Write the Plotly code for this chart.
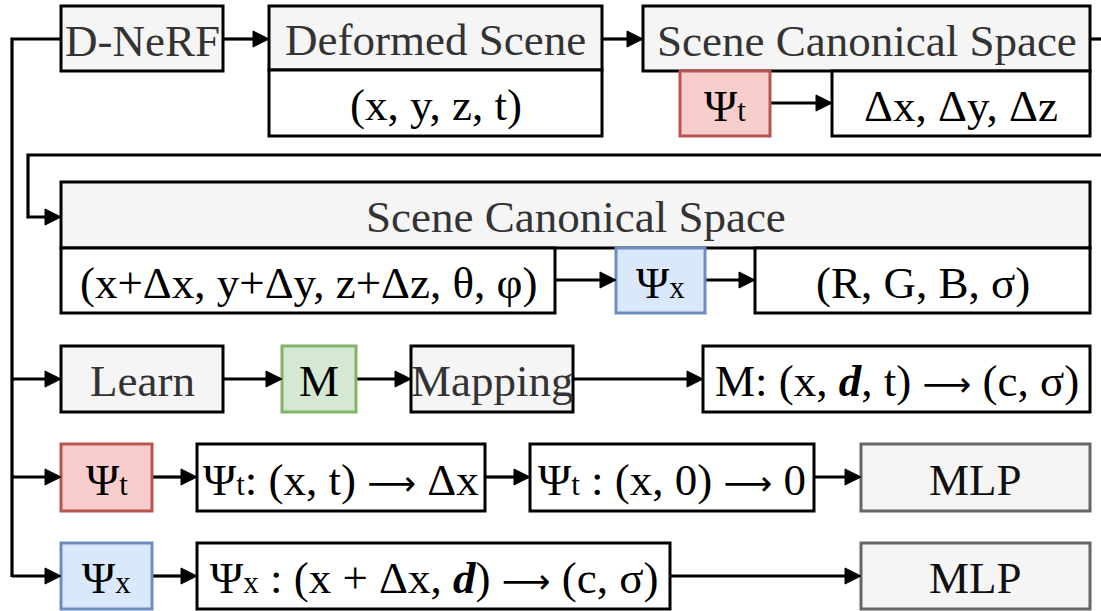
import plotly.graph_objects as go

W, H = 1101, 611
FONT = "Liberation Serif"
FS = 45

def sub(s):
    return "<span style='font-size:31px'>" + s + "</span>"

ARROW = "<span style='font-family:DejaVu Sans;font-size:34px'>⟶</span>"

# ---- diagram content (labels) ----
box_labels = [
    "D-NeRF",
    "Deformed Scene",
    "(x, y, z, t)",
    "Scene Canonical Space",
    "Ψ" + sub("t"),
    "Δx, Δy, Δz",
    "Scene Canonical Space",
    "(x+Δx, y+Δy, z+Δz, θ, φ)",
    "Ψ" + sub("x"),
    "(R, G, B, σ)",
    "Learn",
    "M",
    "Mapping",
    "M: (x, <b><i>d</i></b>, t) " + ARROW + " (c, σ)",
    "Ψ" + sub("t"),
    "Ψ" + sub("t") + ": (x, t) " + ARROW + " Δx",
    "Ψ" + sub("t") + " : (x, 0) " + ARROW + " 0",
    "MLP",
    "Ψ" + sub("x"),
    "Ψ" + sub("x") + " : (x + Δx, <b><i>d</i></b>) " + ARROW + " (c, σ)",
    "MLP",
]
box_kind = ["gray", "gray", "white", "gray", "red", "white",
            "gray", "white", "blue", "white",
            "gray", "green", "gray", "white",
            "red", "white", "white", "mlp",
            "blue", "white", "mlp"]

# ---- layout geometry (pixels) ----
box_x0 = [61, 269, 269, 643, 680, 832, 61, 61, 616, 755, 61, 282, 411, 703, 61, 197, 530, 861, 61, 197, 861]
box_x1 = [223, 602, 602, 1090, 770, 1090, 1090, 555, 705, 1090, 223, 356, 573, 1090, 152, 485, 814, 1090, 152, 670, 1090]
box_y0 = [6, 6, 70, 6, 71, 71, 182, 248, 248, 248, 346, 346, 346, 346, 444, 444, 444, 444, 543, 543, 543]
box_y1 = [71, 70, 136, 71, 136, 136, 248, 313, 313, 313, 412, 412, 412, 412, 511, 511, 511, 511, 609, 609, 609]

styles = {
    "gray":  dict(fill="#f5f5f5", line="#000000", text="#333333"),
    "white": dict(fill="#ffffff", line="#000000", text="#000000"),
    "red":   dict(fill="#f8cecc", line="#b85450", text="#000000"),
    "green": dict(fill="#d5e8d4", line="#82b366", text="#000000"),
    "blue":  dict(fill="#dae8fc", line="#6c8ebf", text="#000000"),
    "mlp":   dict(fill="#f5f5f5", line="#666666", text="#111111"),
}

# connector polylines without arrowheads
plain_lines = [
    [(61, 39), (12, 39), (12, 577)],
    [(1090, 39), (1101, 39)],
]
# connector polylines ending with an arrowhead at last point
arrow_lines = [
    [(1101, 155), (28, 155), (28, 217), (61, 217)],
    [(223, 39), (269, 39)],
    [(602, 39), (643, 39)],
    [(770, 103), (832, 103)],
    [(555, 280), (616, 280)],
    [(705, 280), (755, 280)],
    [(12, 379), (61, 379)],
    [(223, 379), (282, 379)],
    [(356, 379), (411, 379)],
    [(573, 379), (703, 379)],
    [(12, 477), (61, 477)],
    [(152, 477), (197, 477)],
    [(485, 477), (530, 477)],
    [(814, 477), (861, 477)],
    [(12, 576), (61, 576)],
    [(152, 576), (197, 576)],
    [(670, 576), (861, 576)],
]

fig = go.Figure()
shapes = []
annotations = []

for lab, kind, x0, x1, y0, y1 in zip(box_labels, box_kind, box_x0, box_x1, box_y0, box_y1):
    st = styles[kind]
    shapes.append(dict(type="rect", xref="x", yref="y", x0=x0, x1=x1, y0=y0, y1=y1,
                       fillcolor=st["fill"], line=dict(color=st["line"], width=3), layer="above"))
    annotations.append(dict(x=(x0 + x1) / 2, y=(y0 + y1) / 2 + 2, xref="x", yref="y", text=lab,
                            showarrow=False, font=dict(family=FONT, size=FS, color=st["text"]),
                            xanchor="center", yanchor="middle"))

def path_of(pts):
    return "M " + " L ".join(f"{x},{y}" for x, y in pts)

for pts in plain_lines:
    shapes.append(dict(type="path", path=path_of(pts), line=dict(color="#000", width=3.2), layer="below"))

AL, AW = 16, 8
for pts in arrow_lines:
    (xa, ya), (xb, yb) = pts[-2], pts[-1]
    body = pts[:-1] + [(xb - AL + 2, yb)]
    shapes.append(dict(type="path", path=path_of(body), line=dict(color="#000", width=3.2), layer="below"))
    tri = f"M {xb - AL},{yb - AW} L {xb},{yb} L {xb - AL},{yb + AW} Z"
    shapes.append(dict(type="path", path=tri, fillcolor="#000", line=dict(color="#000", width=1), layer="above"))

fig.update_layout(
    width=W, height=H, margin=dict(l=0, r=0, t=0, b=0),
    paper_bgcolor="white", plot_bgcolor="white",
    xaxis=dict(range=[0, W], visible=False, fixedrange=True),
    yaxis=dict(range=[H, 0], visible=False, fixedrange=True),
    shapes=shapes, annotations=annotations, showlegend=False,
)
fig.write_html("out.html", config={"displayModeBar": False})

with open("out.html", "r", encoding="utf-8") as f:
    html = f.read()
html = html.replace("<body>", "<body style=\"margin:0;padding:0;overflow:hidden\">", 1)
with open("out.html", "w", encoding="utf-8") as f:
    f.write(html)
